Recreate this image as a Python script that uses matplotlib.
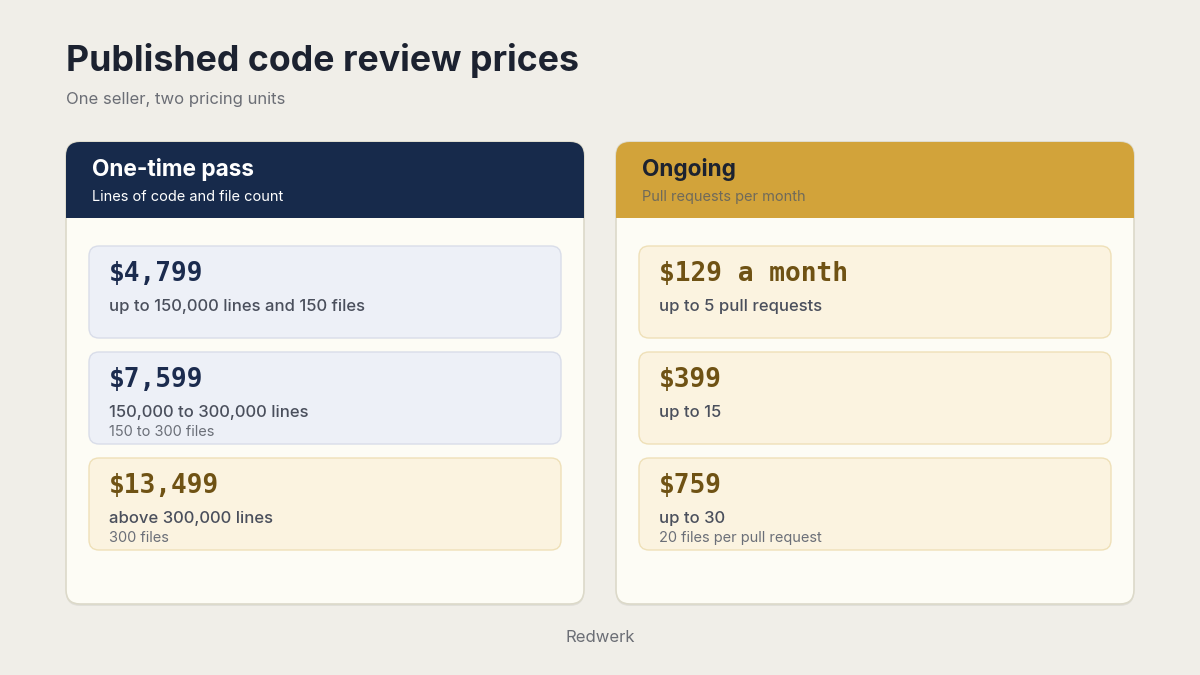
import matplotlib

matplotlib.use("Agg")

import matplotlib.pyplot as plt
from matplotlib.patches import FancyBboxPatch, Rectangle

# --- data -------------------------------------------------------------
title = "Published code review prices"
subtitle = "One seller, two pricing units"
footer = "Redwerk"

card_titles = ["One-time pass", "Ongoing"]
card_subtitles = ["Lines of code and file count", "Pull requests per month"]

left_prices = ["$4,799", "$7,599", "$13,499"]
left_details = ["up to 150,000 lines and 150 files", "150,000 to 300,000 lines", "above 300,000 lines"]
left_notes = ["", "150 to 300 files", "300 files"]
left_tones = ["blue", "blue", "gold"]

right_prices = ["$129 a month", "$399", "$759"]
right_details = ["up to 5 pull requests", "up to 15", "up to 30"]
right_notes = ["", "", "20 files per pull request"]
right_tones = ["gold", "gold", "gold"]

# --- style ------------------------------------------------------------
BG = "#f0eee8"
CARD_FILL = "#fdfcf5"
CARD_EDGE = "#dcd9c9"
HEADER_COLORS = ["#172a4b", "#d2a33a"]
HEADER_TITLE_COLORS = ["#ffffff", "#1c2230"]
HEADER_SUB_COLORS = ["#ffffff", "#6f6a5a"]
TONES = {
    "blue": {"fill": "#edf0f7", "edge": "#d9dde9", "price": "#1b2b4e"},
    "gold": {"fill": "#fbf3e0", "edge": "#efe0b8", "price": "#6f5214"},
}
SANS = ["Inter", "DejaVu Sans"]
MONO = ["DejaVu Sans Mono"]

fig = plt.figure(figsize=(12, 6.75), dpi=100, facecolor=BG)
ax = fig.add_axes([0, 0, 1, 1])
ax.set_xlim(0, 1200)
ax.set_ylim(675, 0)
ax.axis("off")

ax.text(66, 71, title, fontsize=25.7, fontweight="bold", color="#1c2230", family=SANS)
ax.text(66, 104, subtitle, fontsize=12, color="#6b6e75", family=SANS)
ax.text(600, 642, footer, fontsize=12, color="#6b6e75", family=SANS, ha="center")


def draw_card(x0, idx, prices, details, notes, tones):
    y0, w, h = 142, 518, 462
    r = 14
    # soft shadow
    shadow = FancyBboxPatch((x0, y0 + 2), w, h, boxstyle=f"round,pad=0,rounding_size={r}",
                            facecolor="#00000010", edgecolor="none", zorder=1)
    ax.add_patch(shadow)
    card = FancyBboxPatch((x0, y0), w, h, boxstyle=f"round,pad=0,rounding_size={r}",
                          facecolor=CARD_FILL, edgecolor=CARD_EDGE, linewidth=1.2, zorder=2)
    ax.add_patch(card)
    header = Rectangle((x0, y0), w, 76, facecolor=HEADER_COLORS[idx], edgecolor="none", zorder=3)
    header.set_clip_path(card)
    ax.add_patch(header)

    ax.text(x0 + 26, 176, card_titles[idx], fontsize=16.3, fontweight="bold",
            color=HEADER_TITLE_COLORS[idx], family=SANS, zorder=4)
    ax.text(x0 + 26, 201, card_subtitles[idx], fontsize=10.5,
            color=HEADER_SUB_COLORS[idx], family=SANS, zorder=4)

    for i, (price, detail, note, tone) in enumerate(zip(prices, details, notes, tones)):
        style = TONES[tone]
        bx, by = x0 + 23, 246 + i * 106
        box = FancyBboxPatch((bx, by), 472, 92, boxstyle="round,pad=0,rounding_size=10",
                             facecolor=style["fill"], edgecolor=style["edge"], linewidth=1.0, zorder=4)
        ax.add_patch(box)
        ax.text(bx + 20, by + 35, price, fontsize=18.8, fontweight="bold",
                color=style["price"], family=MONO, zorder=5)
        ax.text(bx + 20, by + 65, detail, fontsize=12, fontweight="medium",
                color="#4a4f5c", family=SANS, zorder=5)
        if note:
            ax.text(bx + 20, by + 84, note, fontsize=10.5,
                    color="#6b6f78", family=SANS, zorder=5)


draw_card(66, 0, left_prices, left_details, left_notes, left_tones)
draw_card(616, 1, right_prices, right_details, right_notes, right_tones)

fig.savefig("out.png", dpi=100, facecolor=BG)
plt.close(fig)
